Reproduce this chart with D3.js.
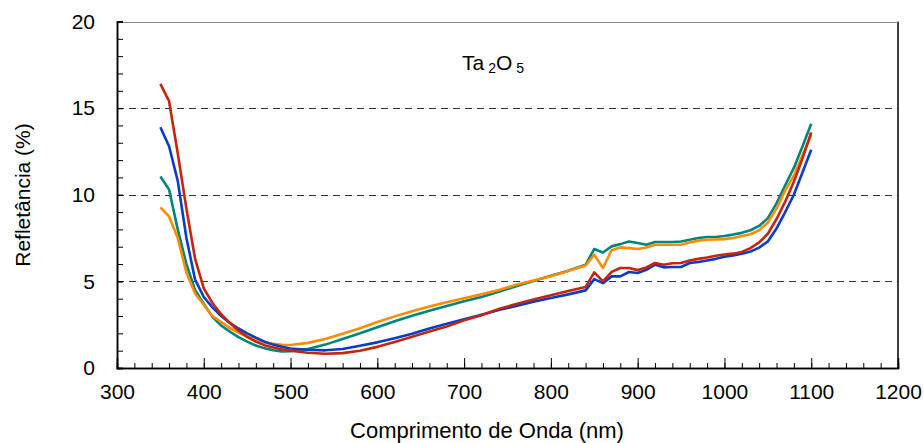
<!DOCTYPE html>
<html>
<head>
<meta charset="utf-8">
<script src="https://cdn.jsdelivr.net/npm/d3@7"></script>
<style>
  body { margin: 0; background: #fff; }
  text { font-family: "Liberation Sans", Arial, sans-serif; fill: #000; }
</style>
</head>
<body>
<svg width="924" height="443"></svg>
<script>
// wavelength grid (nm)
var wavelengths = [350, 360, 370, 380, 390, 400, 410, 420, 430, 440, 450, 460, 470, 480, 490, 500,
  520, 540, 560, 580, 600, 620, 640, 660, 680, 700, 720, 740, 760, 780, 800, 820, 840,
  850, 860, 870, 880, 890, 900, 910, 920, 930, 940, 950, 960, 970, 980, 990, 1000,
  1010, 1020, 1030, 1040, 1050, 1060, 1070, 1080, 1090, 1100]

// reflectance (%) per sample
var redValues = [16.4, 15.4, 12.4, 9.2, 6.3, 4.6, 3.75, 3.1, 2.6, 2.15, 1.8, 1.52, 1.32, 1.18, 1.08, 1.0,
  0.88, 0.82, 0.86, 1.0, 1.22, 1.5, 1.8, 2.1, 2.4, 2.75, 3.05, 3.4, 3.7, 3.95, 4.2, 4.45, 4.68,
  5.52, 5.0, 5.55, 5.77, 5.77, 5.65, 5.8, 6.06, 5.96, 6.05, 6.06, 6.2, 6.3, 6.38, 6.48, 6.55,
  6.6, 6.7, 6.92, 7.25, 7.75, 8.6, 9.6, 10.75, 12.1, 13.6]
var blueValues = [13.9, 12.8, 10.8, 7.5, 5.1, 4.1, 3.5, 3.0, 2.6, 2.28, 2.0, 1.75, 1.52, 1.35, 1.23, 1.13,
  1.05, 1.02, 1.1, 1.28, 1.48, 1.72, 1.98, 2.28, 2.55, 2.82, 3.08, 3.35, 3.58, 3.82, 4.04, 4.25, 4.48,
  5.13, 4.9, 5.29, 5.29, 5.54, 5.48, 5.67, 5.96, 5.81, 5.83, 5.83, 6.06, 6.12, 6.21, 6.3, 6.42,
  6.5, 6.6, 6.72, 6.95, 7.3, 8.05, 9.0, 10.0, 11.3, 12.6]
var tealValues = [11.05, 10.3, 8.0, 6.0, 4.5, 3.7, 2.95, 2.45, 2.1, 1.78, 1.52, 1.3, 1.14, 1.02, 0.96, 0.97,
  1.1, 1.35, 1.68, 2.0, 2.35, 2.7, 3.02, 3.3, 3.58, 3.85, 4.1, 4.4, 4.72, 5.02, 5.32, 5.62, 5.96,
  6.87, 6.67, 7.02, 7.15, 7.3, 7.22, 7.11, 7.27, 7.27, 7.27, 7.3, 7.4, 7.5, 7.56, 7.56, 7.62,
  7.7, 7.8, 7.95, 8.2, 8.65, 9.5, 10.55, 11.55, 12.8, 14.1]
var orangeValues = [9.27, 8.75, 7.5, 5.5, 4.3, 3.65, 3.0, 2.65, 2.31, 2.05, 1.82, 1.63, 1.48, 1.4, 1.34, 1.33,
  1.45, 1.68, 1.98, 2.3, 2.65, 2.98, 3.28, 3.55, 3.8, 4.02, 4.25, 4.5, 4.8, 5.05, 5.3, 5.6, 5.92,
  6.54, 5.77, 6.8, 6.96, 6.92, 6.87, 6.95, 7.11, 7.11, 7.11, 7.11, 7.25, 7.35, 7.4, 7.42, 7.44,
  7.5, 7.62, 7.72, 7.95, 8.4, 9.2, 10.25, 11.1, 12.3, 13.46]

var seriesNames = ['teal', 'orange', 'blue', 'red']
var seriesColors = {teal: '#00857a', orange: '#ff8c00', blue: '#0a3cc8', red: '#c4250c'}
var seriesValues = {teal: tealValues, orange: orangeValues, blue: blueValues, red: redValues}

var xTicks = [300, 400, 500, 600, 700, 800, 900, 1000, 1100, 1200]
var yTicks = [0, 5, 10, 15, 20]

var margin = {top: 21.5, right: 26, bottom: 75, left: 117}
var W = 924, H = 443
var FONT = '"Liberation Sans", Arial, sans-serif'
var svg = d3.select('svg')

var x = d3.scaleLinear().domain([300, 1200]).range([margin.left, W - margin.right])
var y = d3.scaleLinear().domain([0, 20]).range([H - margin.bottom, margin.top])

// dashed grid
svg.append('g')
  .selectAll('line')
  .data(yTicks.filter(function(d){ return d > 0 }))
  .enter().append('line')
  .attr('x1', x(300)).attr('x2', x(1200))
  .attr('y1', function(d){ return Math.round(y(d)) + 0.5 })
  .attr('y2', function(d){ return Math.round(y(d)) + 0.5 })
  .attr('stroke', '#333')
  .attr('stroke-dasharray', '7,5')

// frame right + top (gray under dashes)
svg.append('line')
  .attr('x1', x(1200)).attr('x2', x(1200))
  .attr('y1', y(20)).attr('y2', y(0))
  .attr('stroke', '#000').attr('stroke-width', 1.5)
svg.append('line')
  .attr('x1', x(300)).attr('x2', x(1200))
  .attr('y1', Math.round(y(20)) + 0.5).attr('y2', Math.round(y(20)) + 0.5)
  .attr('stroke', '#888').attr('stroke-width', 1)

// curves
var line = d3.line()
  .x(function(d){ return x(d[0]) })
  .y(function(d){ return y(d[1]) })

seriesNames.forEach(function(name){
  var pts = wavelengths.map(function(w, i){ return [w, seriesValues[name][i]] })
  svg.append('path')
    .datum(pts)
    .attr('d', line)
    .attr('fill', 'none')
    .attr('stroke', seriesColors[name])
    .attr('stroke-width', 2.6)
    .attr('stroke-linejoin', 'round')
})

// axes with inward ticks
var xMinor = d3.range(300, 1201, 20)
var yMinor = d3.range(0, 20.01, 1)

var xAxis = svg.append('g').attr('transform', 'translate(0,' + y(0) + ')')
xAxis.append('g')
  .call(d3.axisBottom(x).tickValues(xMinor).tickSize(-5).tickFormat(''))
xAxis.append('g')
  .call(d3.axisBottom(x).tickValues(xTicks).tickSize(-10).tickPadding(16).tickFormat(d3.format('d')))
xAxis.selectAll('path').attr('stroke', '#000').attr('stroke-width', 1.5)
xAxis.selectAll('text').attr('font-size', 21).attr('font-family', FONT)

var yAxis = svg.append('g').attr('transform', 'translate(' + x(300) + ',0)')
yAxis.append('g')
  .call(d3.axisLeft(y).tickValues(yMinor).tickSize(-6).tickFormat(''))
yAxis.append('g')
  .call(d3.axisLeft(y).tickValues(yTicks).tickSize(-6).tickPadding(22))
yAxis.selectAll('path').attr('stroke', '#000').attr('stroke-width', 1.5)
yAxis.selectAll('text').attr('font-size', 21).attr('font-family', FONT)

svg.selectAll('.domain').attr('stroke', '#000')
svg.selectAll('.tick line').attr('stroke', '#000')

// axis titles
svg.append('text')
  .attr('x', 487).attr('y', 438)
  .attr('text-anchor', 'middle')
  .attr('font-size', 22)
  .text('Comprimento de Onda (nm)')

svg.append('text')
  .attr('transform', 'translate(30,195) rotate(-90)')
  .attr('text-anchor', 'middle')
  .attr('font-size', 21)
  .text('Refletância (%)')

// title with subscripts
var title = svg.append('text').attr('x', 462).attr('y', 70).attr('font-size', 21)
title.append('tspan').text('Ta')
title.append('tspan').attr('dx', 4).attr('dy', 3).attr('font-size', 14).text('2')
title.append('tspan').attr('dy', -3).text('O')
title.append('tspan').attr('dx', 4).attr('dy', 3).attr('font-size', 14).text('5')
</script>
</body>
</html>
